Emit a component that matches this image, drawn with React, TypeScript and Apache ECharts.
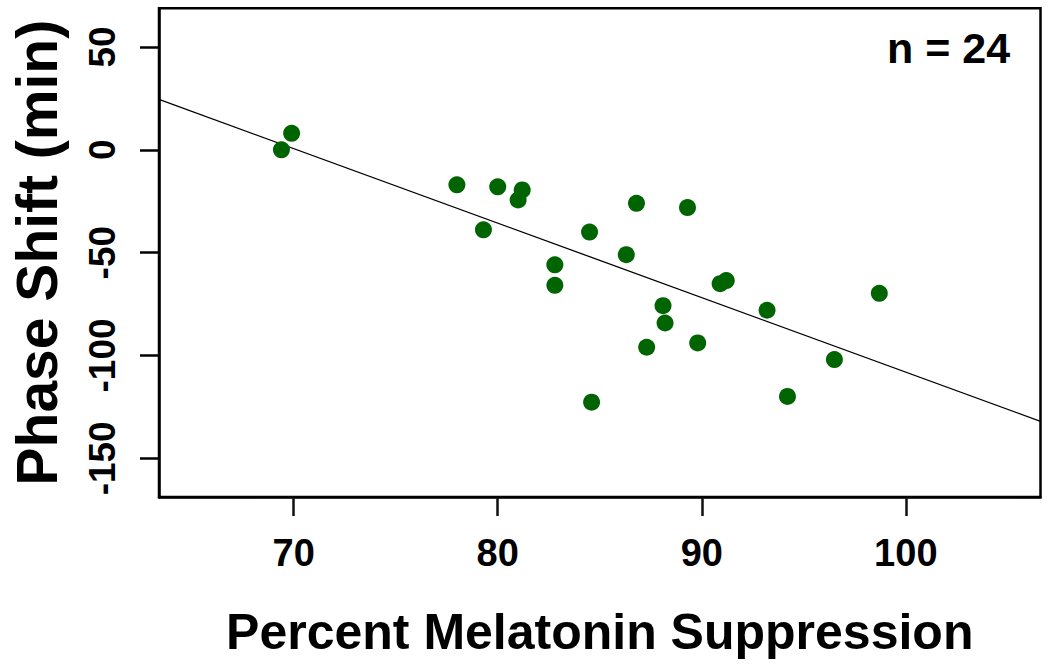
import React, { useEffect, useRef } from "react";
import * as echarts from "echarts";

const melatoninSuppression: number[] = [
  69.4, 69.9, 78.0, 80.0, 81.2, 81.0, 79.3, 82.8, 82.8, 86.8, 89.3, 84.5,
  86.3, 90.9, 91.2, 88.1, 88.2, 93.2, 87.3, 89.8, 84.6, 94.2, 98.7, 96.5,
];
const phaseShift: number[] = [
  0, 8, -17, -18, -19.5, -24.4, -38.9, -55.9, -65.9, -26, -28.1, -40,
  -51, -65.1, -63.6, -75.8, -84.2, -78, -96, -93.9, -122.7, -119.9, -69.8, -102,
];
const xTicks: number[] = [70, 80, 90, 100];
const yTicks: number[] = [-150, -100, -50, 0, 50];
const xLimits: number[] = [63.4, 106.6];
const yLimits: number[] = [-168.8, 68.8];
const fitIntercept = 254.2;
const fitSlope = -3.623;
const sampleLabel = "n = 24";

const FONT = '"Liberation Sans", Arial, Helvetica, sans-serif';
const TICK_LEN = 19;

export default function App() {
  const ref = useRef<HTMLDivElement | null>(null);

  useEffect(() => {
    if (!ref.current) return;
    const chart = echarts.init(ref.current, null, { renderer: "svg" });
    const points = melatoninSuppression.map((x, i) => [x, phaseShift[i]]);
    const fitLine = xLimits.map((x) => [x, fitIntercept + fitSlope * x]);

    chart.setOption({
      animation: false,
      backgroundColor: "#ffffff",
      grid: {
        left: 157,
        right: 9.5,
        top: 8.3,
        bottom: 172,
        show: true,
        borderColor: "#000000",
        borderWidth: 2.5,
        backgroundColor: "transparent",
      },
      xAxis: {
        type: "value",
        min: xLimits[0],
        max: xLimits[1],
        splitLine: { show: false },
        axisLine: {
          show: true,
          onZero: false,
          lineStyle: { color: "#000", width: 2.5 },
        },
        axisTick: {
          show: true,
          inside: false,
          length: TICK_LEN,
          customValues: xTicks,
          lineStyle: { color: "#111111", width: 2.5 },
        },
        axisLabel: {
          customValues: xTicks,
          margin: 37,
          fontSize: 38,
          fontWeight: "bold",
          fontFamily: FONT,
          color: "#000",
        },
        name: "Percent Melatonin Suppression",
        nameLocation: "middle",
        nameGap: 110,
        nameTextStyle: {
          fontSize: 50,
          fontWeight: "bold",
          fontFamily: FONT,
          color: "#000",
        },
      },
      yAxis: {
        type: "value",
        min: yLimits[0],
        max: yLimits[1],
        splitLine: { show: false },
        axisLine: {
          show: true,
          onZero: false,
          lineStyle: { color: "#000", width: 2.5 },
        },
        axisTick: {
          show: true,
          inside: false,
          length: TICK_LEN,
          customValues: yTicks,
          lineStyle: { color: "#000", width: 2.5 },
        },
        axisLabel: {
          customValues: yTicks,
          rotate: 90,
          margin: 38,
          fontSize: 37,
          fontWeight: "bold",
          fontFamily: FONT,
          color: "#000",
        },
        name: "Phase Shift (min)",
        nameLocation: "middle",
        nameGap: 94,
        nameRotate: 90,
        nameTextStyle: {
          fontSize: 57,
          fontWeight: "bold",
          fontFamily: FONT,
          color: "#000",
        },
      },
      series: [
        {
          type: "line",
          data: fitLine,
          showSymbol: false,
          symbol: "none",
          lineStyle: { color: "#000", width: 1.3 },
          silent: true,
          z: 1,
        },
        {
          type: "scatter",
          data: points,
          symbol: "circle",
          symbolSize: 17,
          itemStyle: { color: "#006400", opacity: 1 },
          z: 2,
        },
      ],
      graphic: [
        {
          type: "text",
          left: 887,
          top: 26,
          style: { text: sampleLabel, font: `bold 43px ${FONT}`, fill: "#000" },
        },
      ],
    });

    return () => {
      chart.dispose();
    };
  }, []);

  return (
    <div
      ref={ref}
      style={{ position: "fixed", left: 0, top: 0, width: 1050, height: 669 }}
    />
  );
}
